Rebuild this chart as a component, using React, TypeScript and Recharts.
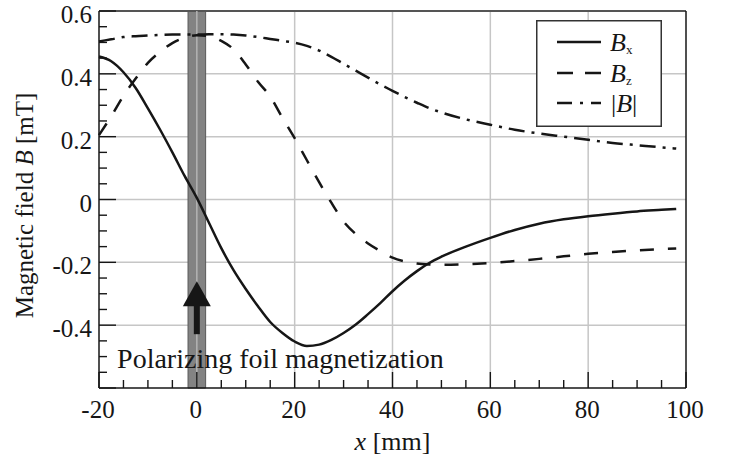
import {
  CartesianGrid,
  Legend,
  Line,
  LineChart,
  ReferenceArea,
  ReferenceDot,
  ReferenceLine,
  XAxis,
  YAxis
} from "recharts";

// positions along the beam [mm]
const POS = [
  -20, -17.5, -15, -12.5, -10, -7.5, -5, -2.5, 0, 2.5, 5, 7.5, 10, 12.5, 15, 17.5, 20, 22.5, 25,
  27.5, 30, 32.5, 35, 37.5, 40, 42.5, 45, 47.5, 50, 55, 60, 65, 70, 75, 80, 85, 90, 95, 98
];
const BX = [
  0.455, 0.44, 0.405, 0.355, 0.29, 0.222, 0.15, 0.075, 0.005, -0.075, -0.155, -0.225, -0.285,
  -0.34, -0.39, -0.425, -0.452, -0.466, -0.462, -0.447, -0.425, -0.398, -0.365, -0.33, -0.292,
  -0.258, -0.228, -0.202, -0.182, -0.15, -0.122, -0.097, -0.077, -0.063, -0.053, -0.045, -0.038,
  -0.033, -0.03
];
const BZ = [
  0.205, 0.265, 0.33, 0.385, 0.435, 0.47, 0.498, 0.515, 0.523, 0.52, 0.505, 0.478, 0.43, 0.375,
  0.328, 0.26, 0.195, 0.125, 0.055, -0.01, -0.07, -0.11, -0.14, -0.164, -0.185, -0.197, -0.204,
  -0.207, -0.208, -0.206, -0.202, -0.196, -0.189, -0.181, -0.173, -0.167, -0.162, -0.158, -0.156
];
const BABS = [
  0.503, 0.51, 0.517, 0.52, 0.522, 0.524, 0.525, 0.525, 0.525, 0.526, 0.526, 0.525, 0.522, 0.517,
  0.511, 0.505, 0.499, 0.489, 0.474, 0.454, 0.432, 0.41, 0.388, 0.366, 0.346, 0.326, 0.308, 0.291,
  0.277, 0.255, 0.238, 0.222, 0.21, 0.2, 0.19, 0.18, 0.173, 0.166, 0.162
];

const X_TICKS = [
  -20, -15, -10, -5, 0, 5, 10, 15, 20, 25, 30, 35, 40, 45, 50, 55, 60, 65, 70, 75, 80, 85, 90, 95, 100
];
const X_LABELS = [-20, 0, 20, 40, 60, 80, 100];
const Y_TICKS = [
  -0.6, -0.55, -0.5, -0.45, -0.4, -0.35, -0.3, -0.25, -0.2, -0.15, -0.1, -0.05, 0, 0.05, 0.1, 0.15,
  0.2, 0.25, 0.3, 0.35, 0.4, 0.45, 0.5, 0.55, 0.6
];
const Y_LABELS = [-0.4, -0.2, 0, 0.2, 0.4, 0.6];
const GRID_X = [0, 20, 40, 60, 80];
const GRID_Y = [-0.4, -0.2, 0, 0.2, 0.4];
const FOIL = [-1.8, 1.8];

const INK = "#161616";
const GRID = "#c6c6c6";
const FONT = "'Liberation Serif', 'Times New Roman', serif";

const data = POS.map((x, i) => ({ x, bx: BX[i], bz: BZ[i], babs: BABS[i] }));

const isYMajor = (v: number) => Math.abs(v / 0.2 - Math.round(v / 0.2)) < 1e-6;
const hasLabel = (list: number[], v: number) => list.some((l) => Math.abs(l - v) < 1e-6);

function XTick({ x, y, payload }: any) {
  const v = payload.value as number;
  const major = v % 20 === 0;
  return (
    <g>
      <line x1={x} x2={x} y1={y} y2={y - (major ? 16 : 8)} stroke={INK} strokeWidth={1.4} />
      {hasLabel(X_LABELS, v) && (
        <text x={x - 1} y={y + 30} textAnchor="middle" fontFamily={FONT} fontSize={25} fill={INK}>
          {v}
        </text>
      )}
    </g>
  );
}

function YTick({ x, y, payload, side }: any) {
  const v = payload.value as number;
  const len = isYMajor(v) ? 17 : 8;
  const dir = side === "left" ? 1 : -1;
  return (
    <g>
      <line x1={x} x2={x + dir * len} y1={y} y2={y} stroke={INK} strokeWidth={1.4} />
      {side === "left" && hasLabel(Y_LABELS, v) && (
        <text
          x={x - 7}
          y={y}
          dy="0.48em"
          textAnchor="end"
          fontFamily={FONT}
          fontSize={25}
          fill={INK}
        >
          {Math.abs(v) < 1e-9 ? "0" : v.toFixed(1)}
        </text>
      )}
    </g>
  );
}

function XTitle({ viewBox }: any) {
  const cx = viewBox.x + viewBox.width / 2;
  return (
    <text x={cx} y={viewBox.y + 62} textAnchor="middle" fontFamily={FONT} fontSize={26} fill={INK}>
      <tspan fontStyle="italic">x</tspan> [mm]
    </text>
  );
}

function YTitle({ viewBox }: any) {
  const cy = viewBox.y + viewBox.height / 2 + 6;
  return (
    <text
      transform={`translate(33, ${cy}) rotate(-90)`}
      textAnchor="middle"
      fontFamily={FONT}
      fontSize={25}
      fill={INK}
    >
      Magnetic field <tspan fontStyle="italic">B</tspan> [mT]
    </text>
  );
}

function Arrow({ cx, cy }: any) {
  return (
    <g fill={INK}>
      <polygon points={`${cx},${cy} ${cx + 14},${cy + 25} ${cx - 14},${cy + 25}`} />
      <rect x={cx - 3} y={cy + 24} width={6} height={29} />
    </g>
  );
}

function Note({ cx, cy }: any) {
  return (
    <text x={cx} y={cy} fontFamily={FONT} fontSize={28} fill={INK}>
      Polarizing foil magnetization
    </text>
  );
}

function LegendBox() {
  const rows = [
    { y: 22, dash: undefined, name: "x" },
    { y: 53, dash: "16 12", name: "z" },
    { y: 83, dash: "15 8 3 8", name: "abs" }
  ];
  return (
    <div style={{ width: 126, height: 107, background: "#fff" }}>
      <svg width={126} height={107} style={{ display: "block" }}>
        <rect x={0.75} y={0.75} width={124.5} height={105.5} fill="#fff" stroke="#333" strokeWidth={1.5} />
        {rows.map((r) => (
          <g key={r.name}>
            <line x1={21} x2={65} y1={r.y} y2={r.y} stroke={INK} strokeWidth={2.5} strokeDasharray={r.dash} />
            {r.name === "abs" ? (
              <text x={75} y={r.y + 9} fontFamily={FONT} fontSize={26} fill={INK}>
                |<tspan fontStyle="italic">B</tspan>|
              </text>
            ) : (
              <text x={74} y={r.y + 9} fontFamily={FONT} fontSize={26} fill={INK}>
                <tspan fontStyle="italic">B</tspan>
                <tspan fontSize={13} dy={3}>{r.name}</tspan>
              </text>
            )}
          </g>
        ))}
      </svg>
    </div>
  );
}

export default function App() {
  return (
    <div style={{ position: "absolute", left: 0, top: 0, width: 732, height: 462, background: "#fff" }}>
      <LineChart width={732} height={462} data={data} margin={{ top: 11, right: 0, bottom: 0, left: 0 }}>
        <CartesianGrid
          stroke={GRID}
          strokeWidth={1.5}
          verticalValues={GRID_X}
          horizontalValues={GRID_Y}
        />
        <XAxis
          dataKey="x"
          type="number"
          domain={[-20, 100]}
          ticks={X_TICKS}
          interval={0}
          height={74}
          tickSize={0}
          tickMargin={0}
          tickLine={false}
          axisLine={{ stroke: INK, strokeWidth: 1.5 }}
          tick={(p: any) => <XTick {...p} />}
          label={<XTitle />}
        />
        <YAxis
          type="number"
          domain={[-0.6, 0.6]}
          ticks={Y_TICKS}
          interval={0}
          width={99}
          tickSize={0}
          tickMargin={0}
          tickLine={false}
          axisLine={{ stroke: INK, strokeWidth: 1.5 }}
          tick={(p: any) => <YTick {...p} side="left" />}
          label={<YTitle />}
        />
        <YAxis
          yAxisId="r"
          orientation="right"
          type="number"
          domain={[-0.6, 0.6]}
          ticks={Y_TICKS}
          interval={0}
          width={46}
          tickSize={0}
          tickMargin={0}
          tickLine={false}
          axisLine={{ stroke: INK, strokeWidth: 1.5 }}
          tick={(p: any) => <YTick {...p} side="right" />}
        />
        <ReferenceLine y={0.6} stroke="#555" strokeWidth={2} />
        <ReferenceArea x1={FOIL[0]} x2={FOIL[1]} y1={-0.6} y2={0.6} fill="#838383" fillOpacity={1} stroke="#5a5a5a" strokeWidth={1} />
        <ReferenceLine x={0} stroke="#b4b4b4" strokeWidth={1.5} />
        <ReferenceDot x={0} y={-0.26} shape={(p: any) => <Arrow {...p} />} />
        <ReferenceDot x={-16.3} y={-0.537} shape={(p: any) => <Note {...p} />} />
        <Line dataKey="bx" type="monotone" stroke={INK} strokeWidth={2.5} dot={false} isAnimationActive={false} />
        <Line dataKey="bz" type="monotone" stroke={INK} strokeWidth={2.5} strokeDasharray="14 14" dot={false} isAnimationActive={false} />
        <Line dataKey="babs" type="monotone" stroke={INK} strokeWidth={2.5} strokeDasharray="16 7 3 7" dot={false} isAnimationActive={false} />
        <Legend
          layout="horizontal"
          verticalAlign="middle"
          align="center"
          wrapperStyle={{ left: 536, top: 20, width: 126, height: 107 }}
          content={() => <LegendBox />}
        />
      </LineChart>
    </div>
  );
}
